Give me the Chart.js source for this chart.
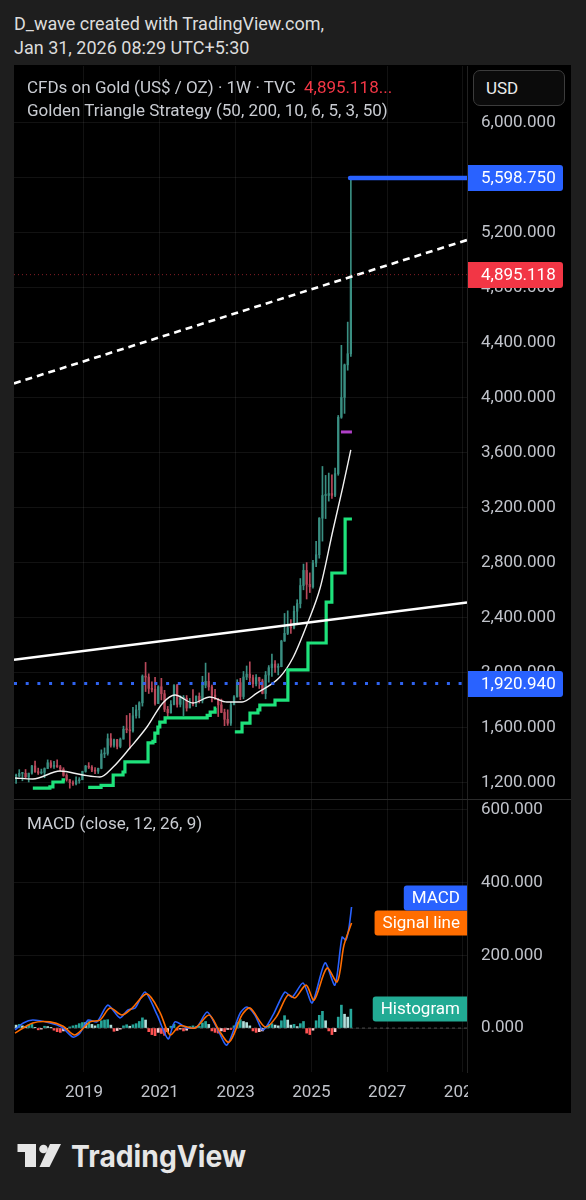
<!DOCTYPE html>
<html>
<head>
<meta charset="utf-8">
<script src="https://cdn.jsdelivr.net/npm/chart.js@4.4.1/dist/chart.umd.min.js"></script>
<style>
  body { margin: 0; background: #1e1e1e; width: 586px; height: 1200px; position: relative; overflow: hidden; font-family: Roboto, sans-serif; }
  .hdr { position: absolute; left: 14px; color: #dcdcdc; font-size: 18px; line-height: 22px; white-space: nowrap; }
  #panel { position: absolute; left: 14px; top: 65px; width: 557px; height: 1048px; background: #000; }
  #panel canvas { position: absolute; left: 0; }
  .sep { position: absolute; left: 0; top: 734px; width: 557px; height: 1px; background: #2b2b2b; }
  .legend { position: absolute; left: 13px; color: #c9ccd2; font-size: 17px; line-height: 20px; white-space: nowrap; }
  .legend .red { color: #f23645; margin-left: 4px; }
  .usd { position: absolute; left: 459px; top: 5px; width: 78px; height: 34px; border: 1px solid #3c3c3c; border-radius: 7px; background: #0b0b0b; color: #ececec; font-size: 17px; line-height: 34px; padding-left: 12px; }
  #footer { position: absolute; left: 0; top: 1135px; }
</style>
</head>
<body>
<div class="hdr" style="top:13px">D_wave created with TradingView.com,</div>
<div class="hdr" style="top:37px">Jan 31, 2026 08:29 UTC+5:30</div>

<div id="panel">
  <canvas id="priceChart" width="557" height="735" style="top:0"></canvas>
  <canvas id="macdChart" width="557" height="313" style="top:735px"></canvas>
  <div class="sep"></div>
  <div class="legend" style="top:12px">CFDs on Gold (US$ / OZ) · 1W · TVC <span class="red">4,895.118...</span></div>
  <div class="legend" style="top:35px">Golden Triangle Strategy (50, 200, 10, 6, 5, 3, 50)</div>
  <div class="usd">USD</div>
  <div class="legend" style="top:748px">MACD (close, 12, 26, 9)</div>
</div>

<svg id="footer" width="300" height="50" viewBox="0 0 300 50">
  <path d="M17.5 9 H36 V32 H25 V17 H17.5 Z" fill="#e6e6e6"/>
  <circle cx="43.5" cy="14" r="4.3" fill="#e6e6e6"/>
  <path d="M50 9 H61 L49.5 32 H39.5 Z" fill="#e6e6e6"/>
  <text x="71" y="32" textLength="175" lengthAdjust="spacingAndGlyphs" font-family="Inter" font-weight="700" font-size="30" fill="#e6e6e6">TradingView</text>
</svg>

<script>
// monthly candles, first one is March 2017
const firstYear = 2017;
const firstMonth = 3;

const opens = [
  1248, 1249, 1268, 1268, 1242, 1269, 1322, 1280, 1271, 1275,
  1303, 1345, 1318, 1325, 1315, 1298, 1253, 1223, 1200, 1192, 1215, 1222,
  1282, 1321, 1313, 1292, 1284, 1305, 1409, 1413, 1520, 1472, 1513, 1464,
  1517, 1589, 1585, 1577, 1687, 1730, 1781, 1975, 1968, 1886, 1879, 1776,
  1898, 1847, 1734, 1708, 1769, 1907, 1770, 1814, 1814, 1743, 1783, 1774,
  1829, 1797, 1909, 1937, 1897, 1837, 1807, 1766, 1711, 1661, 1633, 1768,
  1824, 1928, 1827, 1969, 1990, 1963, 1919, 1965, 1940, 1849, 1983, 2036,
  2063, 2039, 2044, 2230, 2286, 2327, 2326, 2447, 2503, 2634, 2744, 2643,
  2625, 2798, 2858, 3124, 3289, 3289, 3303, 3290, 3448, 3858, 4002, 4239,
  4320
];
const highs = [
  1262, 1295, 1271, 1296, 1270, 1326, 1357, 1306, 1299, 1308,
  1366, 1361, 1356, 1366, 1326, 1309, 1265, 1223, 1214, 1243, 1237, 1284,
  1326, 1346, 1325, 1310, 1306, 1439, 1453, 1555, 1557, 1517, 1516, 1525,
  1611, 1689, 1704, 1748, 1765, 1789, 1984, 2075, 1992, 1933, 1966, 1906,
  1959, 1872, 1755, 1798, 1913, 1916, 1832, 1834, 1834, 1813, 1877, 1831,
  1853, 1974, 2070, 1998, 1910, 1880, 1814, 1808, 1735, 1730, 1786, 1833,
  1949, 1959, 2009, 2049, 2079, 1983, 1987, 1967, 1953, 2009, 2052, 2135,
  2088, 2065, 2236, 2431, 2450, 2387, 2484, 2531, 2685, 2790, 2801, 2726,
  2817, 2956, 3128, 3500, 3435, 3452, 3439, 3489, 3871, 4381, 4245, 4550,
  5598.75
];
const lows = [
  1195, 1242, 1214, 1236, 1205, 1262, 1275, 1260, 1263, 1236,
  1303, 1307, 1303, 1311, 1282, 1247, 1211, 1160, 1180, 1183, 1196, 1221,
  1276, 1303, 1281, 1266, 1267, 1301, 1382, 1400, 1459, 1459, 1445, 1454,
  1517, 1563, 1451, 1567, 1670, 1671, 1757, 1863, 1849, 1860, 1764, 1775,
  1802, 1717, 1677, 1705, 1765, 1750, 1751, 1688, 1721, 1746, 1759, 1753,
  1780, 1780, 1890, 1872, 1787, 1805, 1681, 1709, 1615, 1617, 1616, 1765,
  1823, 1804, 1810, 1949, 1932, 1893, 1903, 1885, 1846, 1810, 1931, 1973,
  2002, 1984, 2043, 2228, 2277, 2286, 2318, 2364, 2471, 2603, 2536, 2583,
  2614, 2772, 2833, 2957, 3121, 3248, 3268, 3281, 3436, 3850, 3886, 4200,
  4300
];
const closes = [
  1249, 1268, 1268, 1242, 1269, 1322, 1280, 1271, 1275, 1303,
  1345, 1318, 1325, 1315, 1298, 1253, 1223, 1200, 1192, 1215, 1222, 1282,
  1321, 1313, 1292, 1284, 1305, 1409, 1413, 1520, 1472, 1513, 1464, 1517,
  1589, 1585, 1577, 1687, 1730, 1781, 1975, 1968, 1886, 1879, 1776, 1898,
  1847, 1734, 1708, 1769, 1907, 1770, 1814, 1814, 1743, 1783, 1774, 1829,
  1797, 1909, 1937, 1897, 1837, 1807, 1766, 1711, 1661, 1633, 1768, 1824,
  1928, 1827, 1969, 1990, 1963, 1919, 1965, 1940, 1849, 1983, 2036, 2063,
  2039, 2044, 2230, 2286, 2327, 2326, 2447, 2503, 2634, 2744, 2643, 2625,
  2798, 2858, 3124, 3289, 3289, 3303, 3290, 3448, 3858, 4002, 4239, 4320,
  4895.118
];

// MACD histogram, one value per month (same months as candles)
const histValues = [
  8, 10, 6, 4, 8, 10, 2, -5, -3, 5,
  4, 2, -6, -10, -12, -8, -4, 3, 6, 8, 12, 15,
  15, 18, 10, 6, 10, 20, 22, 23, 8, -9, -7, -3,
  6, 9, 5, 9, 12, 18, 28, 22, -10, -18, -21, -12,
  -15, -20, -10, 5, 10, -6, -3, -8, -6, 4, 6, 3,
  5, 14, 18, 10, -8, -12, -14, -8, -10, -4, -4, 6,
  16, 23, 18, 15, 6, -8, -12, -10, -8, 4, 10, 12,
  8, 6, 20, 34, 22, 8, 10, 4, 12, 18, -14, -18,
  -6, 20, 35, 46, 20, -8, -18, -10, 30, 63, 38, 30,
  52
];

const yearTicks = [2019, 2021, 2023, 2025, 2027, 2029];
const priceTicks = [1200, 1600, 2000, 2400, 2800, 3200, 3600, 4000, 4400, 4800, 5200, 5600, 6000];
const macdTicks = [0, 200, 400, 600];

// moving average (white curve)
const maYears = [2017.18, 2017.65, 2018.37, 2018.97, 2019.42, 2019.77, 2020.21, 2020.66, 2021.08, 2021.40, 2021.88,
  2022.32, 2022.77, 2023.17, 2023.56, 2024.17, 2024.51, 2024.91, 2025.23, 2025.57, 2025.83, 2026.04];
const maValues = [1234, 1227, 1285, 1256, 1241, 1314, 1452, 1605, 1780, 1838, 1780,
  1823, 1787, 1787, 1852, 1969, 2107, 2369, 2616, 3038, 3351, 3620];

// green stepped support (null = break)
const stepYears = [2017.65, 2018.10, 2018.18, 2018.45, 2018.50, 2018.80,
  2019.11, 2019.45, 2019.77, 2020.03, 2020.08, 2020.69, 2020.82, 2020.87, 2020.95, 2021.00, 2021.14, 2022.25, 2022.33, 2022.46, 2022.49, 2022.70,
  2022.98, 2023.17, 2023.38, 2023.59, 2023.64, 2024.04, 2024.38, 2024.91, 2025.39, 2025.54, 2025.89, 2026.07];
const stepValues = [1161, 1169, 1205, 1220, 1220, null,
  1166, 1180, 1256, 1278, 1351, 1489, 1500, 1561, 1605, 1641, 1671, 1690, 1714, 1743, 1743, null,
  1569, 1634, 1707, 1729, 1765, 1801, 2020, 2216, 2514, 2725, 3118, 3118];

// trend lines and levels
const trendYears = [2017.153, 2029.106];
const dashedTrend = [4104, 5147];
const solidTrend = [2094, 2510];
const lastPrice = 4895.118;
const highLevel = 5598.75;
const highLevelYears = [2026.02, 2029.106];
const supportLevel = 1920.94;
const purpleLevel = 3751;
const purpleYears = [2025.78, 2026.07];

// MACD and signal lines
const macdYears = [2017.18, 2017.40, 2017.65, 2018.10, 2018.42, 2018.71, 2018.89, 2019.11, 2019.34, 2019.63, 2019.95,
  2020.16, 2020.35, 2020.61, 2020.93, 2021.22, 2021.40, 2021.72, 2021.98, 2022.25, 2022.51, 2022.77, 2023.12,
  2023.30, 2023.51, 2023.72, 2023.99, 2024.30, 2024.49, 2024.78, 2025.02, 2025.36, 2025.62, 2025.81, 2025.91, 2025.99, 2026.06];
const macdValues = [-5, 14, 22, 14, 2, -25, -14, 22, 17, 63, 28,
  50, 55, 99, 36, -30, 17, 0, 3, 44, 0, -47, 41,
  58, 36, -6, 36, 99, 85, 124, 69, 179, 118, 250, 242, 275, 333];
const signalYears = [2017.18, 2017.65, 2018.10, 2018.45, 2018.76, 2019.16, 2019.42, 2019.69, 2020.00, 2020.27,
  2020.66, 2021.00, 2021.27, 2021.53, 2021.93, 2022.30, 2022.56, 2022.83, 2023.17, 2023.38,
  2023.78, 2024.07, 2024.38, 2024.57, 2024.86, 2025.07, 2025.41, 2025.68, 2025.86, 2026.06];
const signalValues = [-14, 14, 17, 5, -19, 17, 22, 55, 36, 55,
  94, 44, -19, 6, 0, 36, -6, -39, 36, 55,
  3, 30, 91, 83, 118, 77, 165, 127, 228, 289];

const X_MIN = 2017.153, X_MAX = 2029.106;
const GRID = 'rgba(255,255,255,0.07)';
const EDGE = 'rgba(255,255,255,0.13)';
const TICK = '#c0c3ca';
const FONT = 'Roboto';
const UP = '#3a8f82', DOWN = '#b8485a';

Chart.defaults.font.family = FONT;

const months = closes.map((_, i) => firstYear + (firstMonth - 1 + i + 0.5) / 12);
const pts = (xs, ys) => xs.map((x, i) => ({ x: x, y: ys[i] }));
const fmt = v => v.toLocaleString('en-US', { minimumFractionDigits: 3, maximumFractionDigits: 3 });

function xAxis(showLabels) {
  return {
    type: 'linear', min: X_MIN, max: X_MAX, offset: false,
    afterBuildTicks: s => { s.ticks = yearTicks.map(v => ({ value: v })); },
    afterFit: s => { s.height = showLabels ? 41 : 0; s.paddingLeft = 0; s.paddingRight = 0; },
    grid: { color: GRID, drawTicks: false, offset: false },
    border: { display: false },
    ticks: {
      display: showLabels, autoSkip: false, maxRotation: 0, padding: 11,
      color: TICK, font: { size: 17 }, callback: v => String(v)
    }
  };
}

function yAxis(min, max, tickList) {
  return {
    position: 'right', min: min, max: max, beginAtZero: false,
    afterBuildTicks: s => { s.ticks = tickList.map(v => ({ value: v })); },
    afterFit: s => { s.width = 104; s.paddingTop = 0; s.paddingBottom = 0; },
    grid: { color: GRID, drawTicks: false },
    border: { display: true, color: EDGE },
    ticks: { color: TICK, font: { size: 17 }, padding: 14, callback: v => fmt(v) }
  };
}

const priceTags = {
  id: 'priceTags',
  afterDraw(chart) {
    const { ctx, chartArea, scales: { y } } = chart;
    const tags = [[highLevel, '#2962ff'], [lastPrice, '#f23645'], [supportLevel, '#2962ff']];
    ctx.save();
    ctx.font = '17px ' + FONT;
    ctx.textBaseline = 'middle';
    tags.forEach(([v, color]) => {
      const py = Math.round(y.getPixelForValue(v));
      ctx.fillStyle = color;
      ctx.beginPath();
      ctx.roundRect(chartArea.right + 1, py - 13, 95, 26, [0, 3, 3, 0]);
      ctx.fill();
      ctx.fillStyle = '#ffffff';
      ctx.fillText(fmt(v), chartArea.right + 14, py + 1);
    });
    ctx.restore();
  }
};

new Chart(document.getElementById('priceChart'), {
  type: 'bar',
  data: {
    datasets: [
      { type: 'line', data: pts(highLevelYears, [highLevel, highLevel]), borderColor: '#2962ff', borderWidth: 4.5, borderCapStyle: 'round', pointRadius: 0, order: 0 },
      { type: 'line', data: pts(purpleYears, [purpleLevel, purpleLevel]), borderColor: '#b040c8', borderWidth: 3, pointRadius: 0, order: 1 },
      { type: 'line', data: pts(trendYears, [supportLevel, supportLevel]), borderColor: '#2f63f0', borderWidth: 3, borderDash: [3, 8.7], pointRadius: 0, order: 2 },
      { type: 'line', data: pts(trendYears, [lastPrice, lastPrice]), borderColor: 'rgba(242,54,69,0.55)', borderWidth: 1, borderDash: [1, 3], pointRadius: 0, order: 3 },
      { type: 'line', data: pts(trendYears, dashedTrend), borderColor: '#ffffff', borderWidth: 2.6, borderDash: [7, 5], pointRadius: 0, order: 4 },
      { type: 'line', data: pts(trendYears, solidTrend), borderColor: '#ffffff', borderWidth: 2.5, pointRadius: 0, order: 5 },
      { type: 'line', data: pts(stepYears, stepValues), stepped: true, spanGaps: false, borderColor: '#1ee27b', borderWidth: 3.2, pointRadius: 0, order: 6 },
      { type: 'line', data: pts(maYears, maValues), borderColor: '#f2f2f2', borderWidth: 1.4, cubicInterpolationMode: 'monotone', pointRadius: 0, order: 7 },
      {
        data: months.map((t, i) => ({ x: t, y: [opens[i], closes[i]] })),
        backgroundColor: months.map((_, i) => closes[i] >= opens[i] ? UP : DOWN),
        barThickness: 1.6, minBarLength: 1, grouped: false, order: 8
      },
      {
        data: months.map((t, i) => ({ x: t, y: [lows[i], highs[i]] })),
        backgroundColor: months.map((_, i) => closes[i] >= opens[i] ? UP : DOWN),
        barThickness: 1, grouped: false, order: 9
      }
    ]
  },
  options: {
    responsive: false,
    animation: false,
    events: [],
    layout: { padding: { top: 1, left: 0, right: 0, bottom: 0 } },
    plugins: { legend: { display: false }, tooltip: { enabled: false } },
    scales: {
      x: xAxis(false),
      y: yAxis(1074.2, 6412.6, priceTicks)
    }
  },
  plugins: [priceTags]
});

const macdTags = {
  id: 'macdTags',
  afterDraw(chart) {
    const { ctx, chartArea, scales: { y } } = chart;
    ctx.save();
    // the year label at the right edge is cut by the price scale
    ctx.fillStyle = '#000';
    ctx.fillRect(chartArea.right + 1, chartArea.bottom + 1, chart.width - chartArea.right, chart.height - chartArea.bottom);
    ctx.font = '17px ' + FONT;
    ctx.textBaseline = 'middle';
    const tag = (text, color, cy) => {
      const w = ctx.measureText(text).width + 15;
      ctx.fillStyle = color;
      ctx.beginPath();
      ctx.roundRect(chartArea.right - w, Math.round(cy) - 12.5, w, 25, [3, 0, 0, 3]);
      ctx.fill();
      ctx.fillStyle = '#ffffff';
      ctx.fillText(text, chartArea.right - w + 8, Math.round(cy) + 1);
    };
    const sigY = y.getPixelForValue(signalValues[signalValues.length - 1]);
    const macdY = Math.min(y.getPixelForValue(macdValues[macdValues.length - 1]), sigY - 25);
    const histY = y.getPixelForValue(histValues[histValues.length - 1]);
    tag('Signal line', '#ff6d00', sigY);
    tag('MACD', '#2962ff', macdY);
    tag('Histogram', '#22ab94', histY);
    ctx.restore();
  }
};

const histColors = histValues.map((v, i) => {
  const prev = i > 0 ? histValues[i - 1] : v;
  if (v >= 0) return prev < v ? '#26a69a' : '#b2dfdb';
  return prev < v ? '#ffcdd2' : '#ff5252';
});

new Chart(document.getElementById('macdChart'), {
  type: 'bar',
  data: {
    datasets: [
      { type: 'line', data: pts(macdYears, macdValues), borderColor: '#2962ff', borderWidth: 1.6, tension: 0.25, pointRadius: 0, order: 1 },
      { type: 'line', data: pts(signalYears, signalValues), borderColor: '#ff6d00', borderWidth: 1.6, tension: 0.3, pointRadius: 0, order: 0 },
      { type: 'line', data: pts(trendYears, [0, 0]), borderColor: 'rgba(255,255,255,0.28)', borderWidth: 1, borderDash: [3, 3], pointRadius: 0, order: 3 },
      {
        data: months.map((t, i) => ({ x: t, y: histValues[i] })),
        backgroundColor: histColors,
        barThickness: 2, grouped: false, order: 2
      }
    ]
  },
  options: {
    responsive: false,
    animation: false,
    events: [],
    layout: { padding: 0 },
    plugins: { legend: { display: false }, tooltip: { enabled: false } },
    scales: {
      x: xAxis(true),
      y: yAxis(-121, 627.5, macdTicks)
    }
  },
  plugins: [macdTags]
});
</script>
</body>
</html>
